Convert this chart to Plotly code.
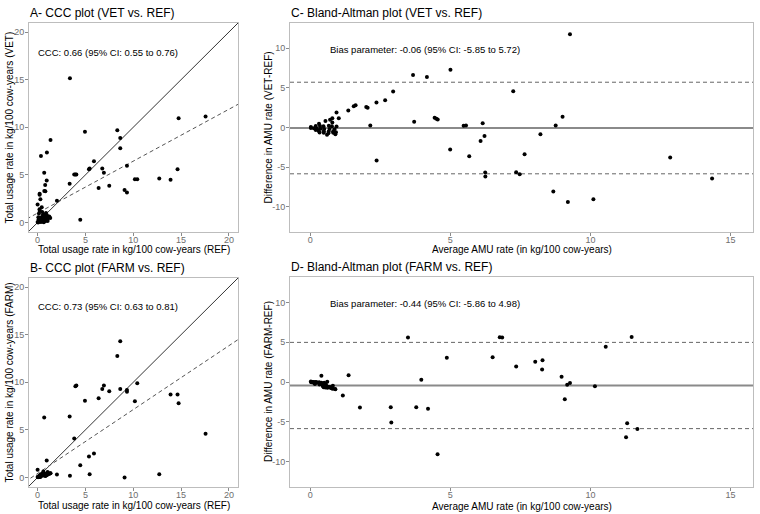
import numpy as np
import plotly.graph_objects as go

# ---------------- data (per farm) ----------------
ref = [17.56, 14.74, 14.63, 13.90, 12.72, 10.42, 10.17, 9.34, 9.34, 9.09,
       8.64, 8.64, 8.33, 7.49, 6.93, 6.76, 6.38, 5.89, 5.44, 5.37,
       4.95, 4.46, 4.05, 3.95, 3.83, 3.35, 3.38, 2.02,
       0.35, 0.97, 1.35, 0.69, 0.95, 0.79, 0.70, 0.81, 0.21, 0.21, 0.29, 0.00, 0.43,
       0.00, 0.05, 0.10, 0.18, 0.25, 0.30, 0.35, 0.40, 0.45, 0.50, 0.55, 0.60, 0.65,
       0.70, 0.72, 0.78, 0.82, 0.88, 0.92, 0.98, 1.02, 1.08, 1.15, 1.22, 1.32, 0.22,
       0.20, 0.14, 0.48, 1.05, 0.08]
vet = [11.12, 10.95, 5.58, 4.49, 4.63, 4.53, 4.53, 5.96, 3.16, 3.40,
       8.88, 7.79, 9.68, 3.86, 5.23, 5.68, 3.61, 6.42, 5.68, 5.58,
       9.54, 0.28, 5.05, 5.05, 5.05, 4.07, 15.16, 2.27,
       6.99, 7.36, 8.66, 5.23, 4.40, 3.94, 3.30, 3.29, 3.03, 2.90, 2.43, 1.88, 1.61,
       0.05, 0.00, 0.30, 0.08, 0.45, 0.18, 0.05, 0.55, 0.30, 0.10, 0.78, 0.40, 0.02,
       0.85, 0.25, 0.60, 0.15, 1.00, 0.40, 0.75, 0.28, 0.55, 0.50, 0.62, 0.48, 1.20,
       1.38, 0.95, 1.10, 0.15, 0.55]
farm = [4.58, 7.80, 8.72, 8.72, 0.35, 9.90, 8.00, 9.20, 9.00, 0.00,
        14.30, 9.30, 12.76, 9.06, 9.65, 9.30, 8.32, 2.52, 0.35, 2.20,
        8.07, 1.29, 9.65, 9.58, 4.10, 6.40, 0.17, 0.31,
        0.30, 0.35, 0.45, 6.29, 1.79, 0.25, 0.20, 0.15, 0.10, 0.20, 0.05, 0.80, 0.30,
        0.05, 0.02, 0.10, 0.15, 0.20, 0.25, 0.30, 0.28, 0.35, 0.30, 0.45, 0.62, 0.30,
        0.25, 0.40, 0.32, 0.28, 0.20, 0.33, 0.25, 0.40, 0.35, 0.38, 0.38, 0.45, 0.12,
        0.08, 0.10, 0.18, 0.57, 0.06]

# fitted (dashed) lines in CCC plots
vet_fit_intercept, vet_fit_slope = 0.99, 0.545
farm_fit_intercept, farm_fit_slope = 0.42, 0.671

# Bland-Altman statistics
vet_bias, vet_loa_low, vet_loa_high = -0.06, -5.85, 5.72
farm_bias, farm_loa_low, farm_loa_high = -0.44, -5.86, 4.98
ba_limit = 12

ccc_vet_text = "CCC: 0.66 (95% CI: 0.55 to 0.76)"
ccc_farm_text = "CCC: 0.73 (95% CI: 0.63 to 0.81)"
ba_vet_text = "Bias parameter: -0.06 (95% CI: -5.85 to 5.72)"
ba_farm_text = "Bias parameter: -0.44 (95% CI: -5.86 to 4.98)"

ccc_ticks = [0, 5, 10, 15, 20]
ba_xticks = [0, 5, 10, 15]
ba_yticks = [-10, -5, 0, 5, 10]

# ---------------- derived ----------------
ref_a = np.array(ref)
vet_a = np.array(vet)
farm_a = np.array(farm)
avg_vet = (ref_a + vet_a) / 2
dif_vet = vet_a - ref_a
avg_farm = (ref_a + farm_a) / 2
dif_farm = farm_a - ref_a
mv = np.abs(dif_vet) <= ba_limit
mf = np.abs(dif_farm) <= ba_limit

W, H = 760, 514
FONT = "Liberation Sans, Arial, sans-serif"


def px(x):
    return x / W


def py(y):
    return 1 - y / H


# panel boxes in pixels: (left, right, top, bottom)
boxes = {
    "A": (29, 238, 23, 232),
    "B": (29, 238, 278, 487),
    "C": (290, 753, 23, 232),
    "D": (290, 753, 277, 487),
}

CCC_X = [-0.9, 20.95]
CCC_Y = [-1.0, 20.95]
BA_X = [-0.72, 15.8]
BA_Y = [-13.2, 13.2]

fig = go.Figure()

pt = dict(color="black", size=4)

# A
line_x = np.array([-5.0, 25.0])
fig.add_trace(go.Scatter(x=line_x, y=line_x, mode="lines",
                         line=dict(color="#333333", width=1), xaxis="x", yaxis="y"))
fig.add_trace(go.Scatter(x=line_x, y=vet_fit_intercept + vet_fit_slope * line_x, mode="lines",
                         line=dict(color="#555555", width=1, dash="4px,3px"), xaxis="x", yaxis="y"))
fig.add_trace(go.Scatter(x=ref_a, y=vet_a, mode="markers", marker=pt, xaxis="x", yaxis="y"))
# B
fig.add_trace(go.Scatter(x=line_x, y=line_x, mode="lines",
                         line=dict(color="#333333", width=1), xaxis="x2", yaxis="y2"))
fig.add_trace(go.Scatter(x=line_x, y=farm_fit_intercept + farm_fit_slope * line_x, mode="lines",
                         line=dict(color="#555555", width=1, dash="4px,3px"), xaxis="x2", yaxis="y2"))
fig.add_trace(go.Scatter(x=ref_a, y=farm_a, mode="markers", marker=pt, xaxis="x2", yaxis="y2"))
# C
fig.add_trace(go.Scatter(x=avg_vet[mv], y=dif_vet[mv], mode="markers", marker=pt, xaxis="x3", yaxis="y3"))
# D
fig.add_trace(go.Scatter(x=avg_farm[mf], y=dif_farm[mf], mode="markers", marker=pt, xaxis="x4", yaxis="y4"))

shapes = []
for ax, bias, lo, hi in [("3", vet_bias, vet_loa_low, vet_loa_high),
                         ("4", farm_bias, farm_loa_low, farm_loa_high)]:
    shapes.append(dict(type="line", xref="x%s domain" % ax, yref="y" + ax, x0=0, x1=1, y0=bias, y1=bias,
                       line=dict(color="#8a8a8a", width=1.8), layer="below"))
    for v in (lo, hi):
        shapes.append(dict(type="line", xref="x%s domain" % ax, yref="y" + ax, x0=0, x1=1, y0=v, y1=v,
                           line=dict(color="#666666", width=1, dash="4px,3px"), layer="below"))


def axis(box, horiz, rng, ticks, anchor):
    l, r, t, b = box
    dom = [px(l), px(r)] if horiz else [py(b), py(t)]
    return dict(domain=dom, range=rng, tickvals=ticks, ticktext=[str(v) for v in ticks],
                showgrid=False, zeroline=False,
                showline=True, mirror=True, linecolor="#bdbdbd", linewidth=1,
                ticks="outside", ticklen=3, tickcolor="#8a8a8a", tickwidth=1,
                ticklabelstandoff=-4 if horiz else -1,
                tickfont=dict(family=FONT, size=9, color="#6e6e6e"), anchor=anchor, fixedrange=True)


layout = dict(
    width=W, height=H, margin=dict(l=0, r=0, t=0, b=0),
    paper_bgcolor="white", plot_bgcolor="white", showlegend=False,
    xaxis=axis(boxes["A"], True, CCC_X, ccc_ticks, "y"),
    yaxis=axis(boxes["A"], False, CCC_Y, ccc_ticks, "x"),
    xaxis2=axis(boxes["B"], True, CCC_X, ccc_ticks, "y2"),
    yaxis2=axis(boxes["B"], False, CCC_Y, ccc_ticks, "x2"),
    xaxis3=axis(boxes["C"], True, BA_X, ba_xticks, "y3"),
    yaxis3=axis(boxes["C"], False, BA_Y, ba_yticks, "x3"),
    xaxis4=axis(boxes["D"], True, BA_X, ba_xticks, "y4"),
    yaxis4=axis(boxes["D"], False, BA_Y, ba_yticks, "x4"),
    shapes=shapes,
)

ann = []
titles = {"A": "A- CCC plot (VET vs. REF)", "B": "B- CCC plot (FARM vs. REF)",
          "C": "C- Bland-Altman plot (VET vs. REF)", "D": "D- Bland-Altman plot (FARM vs. REF)"}
xtitles = {"A": "Total usage rate in kg/100 cow-years (REF)", "B": "Total usage rate in kg/100 cow-years (REF)",
           "C": "Average AMU rate (in kg/100 cow-years)", "D": "Average AMU rate (in kg/100 cow-years)"}
ytitles = {"A": "Total usage rate in kg/100 cow-years (VET)", "B": "Total usage rate in kg/100 cow-years (FARM)",
           "C": "Difference in AMU rate (VET-REF)", "D": "Difference in AMU rate (FARM-REF)"}
ytitle_x = {"A": 9, "B": 9, "C": 268, "D": 268}
xtitle_dy = {"A": 17, "B": 18, "C": 17, "D": 19}
for k, (l, r, t, b) in boxes.items():
    ann.append(dict(text=titles[k], x=px(l - 1), y=py(t - 10), xref="paper", yref="paper",
                    xanchor="left", yanchor="middle", showarrow=False,
                    font=dict(family=FONT, size=12, color="black")))
    ann.append(dict(text=xtitles[k], x=px((l + r) / 2), y=py(b + xtitle_dy[k]), xref="paper", yref="paper",
                    xanchor="center", yanchor="middle", showarrow=False,
                    font=dict(family=FONT, size=10, color="black")))
    ann.append(dict(text=ytitles[k], x=px(ytitle_x[k]), y=py((t + b) / 2), xref="paper", yref="paper",
                    xanchor="center", yanchor="middle", showarrow=False, textangle=-90,
                    font=dict(family=FONT, size=10, color="black")))

for xr, yr, txt, x, y in [("x", "y", ccc_vet_text, -0.2, 17.9), ("x2", "y2", ccc_farm_text, -0.2, 18.0),
                          ("x3", "y3", ba_vet_text, 0.65, 9.9), ("x4", "y4", ba_farm_text, 0.65, 9.9)]:
    ann.append(dict(text=txt, x=x, y=y, xref=xr, yref=yr, xanchor="left", yanchor="middle",
                    showarrow=False, font=dict(family=FONT, size=9.5, color="black")))

layout["annotations"] = ann
fig.update_layout(**layout)
fig.write_html("out.html", config={"displayModeBar": False},
               post_script="document.body.style.margin='0px';")
